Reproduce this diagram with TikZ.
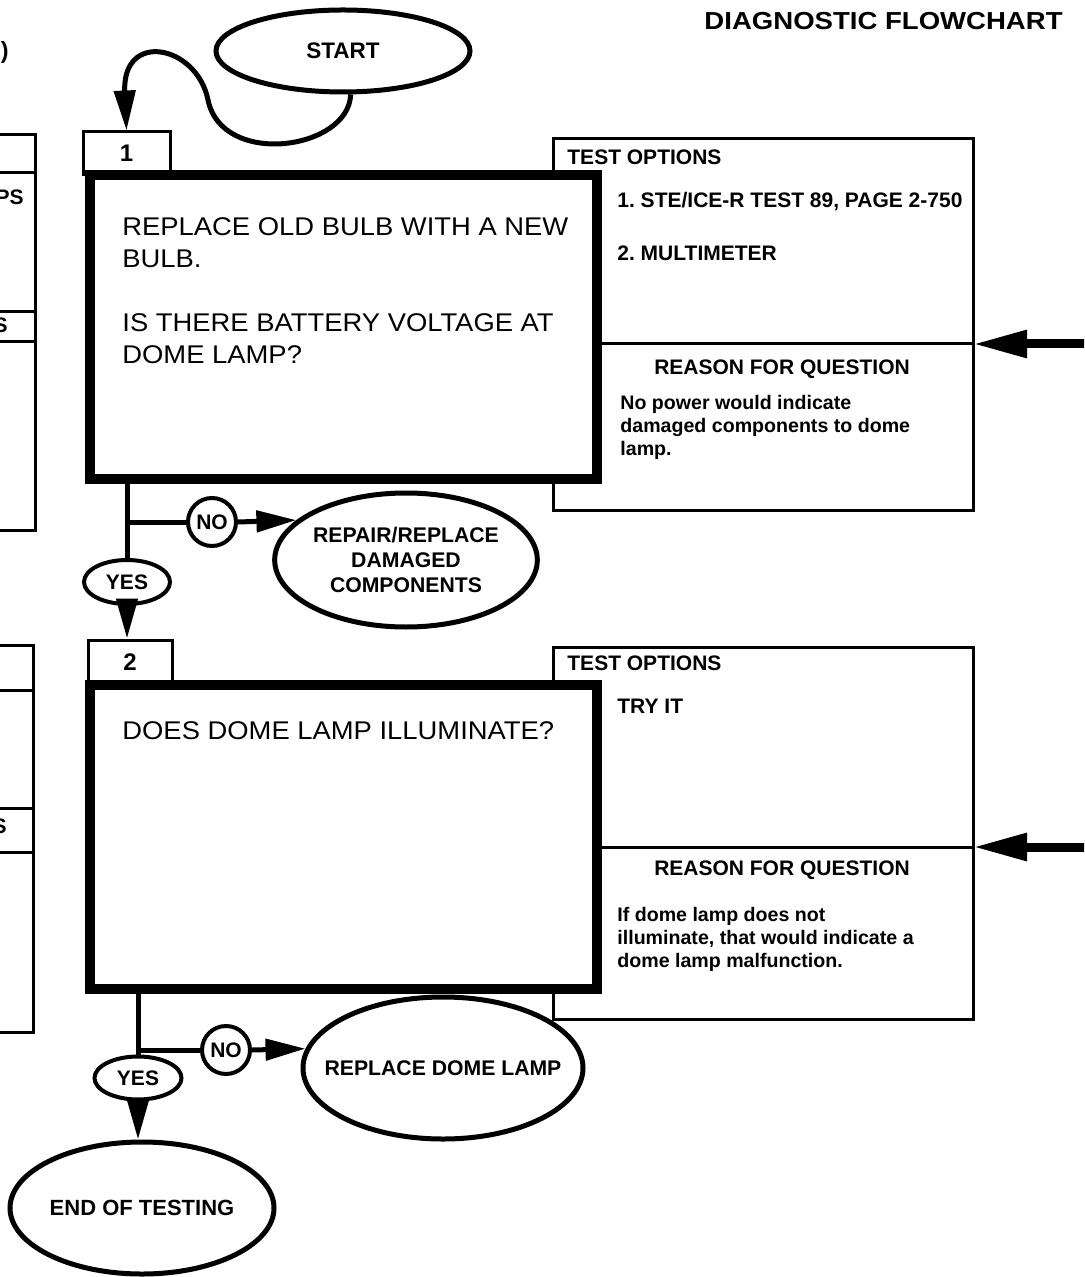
\documentclass[tikz,border=0pt]{standalone}
\usepackage{fontspec}
\setmainfont{Liberation Sans}
\newfontfamily\titlefont[FakeStretch=1.12]{Liberation Sans}
\newfontfamily\qfont[FakeStretch=1.07]{Liberation Sans}
\usetikzlibrary{shapes.geometric,arrows.meta}
\frenchspacing
\begin{document}
\begin{tikzpicture}[x=0.5pt,y=-0.5pt,
  thinline/.style={line width=1.5pt},
  mainbox/.style={draw,line width=5pt,fill=white,rectangle,minimum width=253.5pt,minimum height=152pt,inner sep=0pt},
  testbox/.style={draw,line width=1.5pt,rectangle,minimum width=210pt,inner sep=0pt},
  tabbox/.style={draw,line width=1.5pt,rectangle,inner sep=0pt,font=\bfseries\fontsize{12}{14}\selectfont},
  oval/.style={draw,ellipse,line width=2.5pt,inner sep=0pt,align=center,font=\bfseries\fontsize{10.6}{12.5}\selectfont},
  answer/.style={draw,ellipse,line width=2pt,inner sep=0pt,font=\bfseries\fontsize{10.5}{12}\selectfont},
  conn/.style={line width=2.5pt},
  endtip/.style={-{Triangle[length=20pt,width=10.5pt]}},
  bigarrow/.style={line width=4.5pt,-{Triangle[length=27pt,width=13pt]}},
  hdr/.style={font=\bfseries\fontsize{10.5}{12}\selectfont,inner sep=0pt,anchor=base west},
  smalltext/.style={font=\bfseries\fontsize{9.8}{11.5}\selectfont,inner sep=0pt,anchor=base west,align=left},
  qtext/.style={font=\qfont\fontsize{12.8}{16}\selectfont,inner sep=0pt,anchor=base west,align=left},
]
\useasboundingbox (0,0) rectangle (1084,1277);
\clip (0,0) rectangle (1084,1277);

% title and fragments at left edge
\node[font=\titlefont\bfseries\fontsize{12.3}{14}\selectfont,anchor=base east,inner sep=0pt] (title) at (1063,30) {DIAGNOSTIC FLOWCHART};
\node[font=\bfseries\fontsize{11.7}{14}\selectfont,anchor=base east,inner sep=0pt] (paren) at (9,59) {)};

\draw[thinline] (-10,135) -- (35,135) -- (35,530) -- (-10,530);
\draw[thinline] (-10,173) -- (35,173) (-10,312) -- (35,312) (-10,342) -- (35,342);
\node[hdr,anchor=base east] (lp1) at (24,205) {PS};
\node[hdr,anchor=base east] (ls1) at (8,333) {S};

\draw[thinline] (-10,645) -- (33,645) -- (33,1032) -- (-10,1032);
\draw[thinline] (-10,690) -- (33,690) (-10,808) -- (33,808) (-10,852) -- (33,852);
\node[hdr,anchor=base east] (ls2) at (7,833) {S};

% side boxes (behind)
\node[testbox,minimum height=185.5pt] (test1) at (763,324.5) {};
\node[testbox,minimum height=186pt] (test2) at (763,833) {};

% main boxes
\node[mainbox] (box1) at (343.5,327) {};
\node[mainbox] (box2) at (343.5,837) {};
\node[tabbox,minimum width=43.5pt,minimum height=21.5pt] (tab1) at (126.5,153.5) {1};
\node[tabbox,minimum width=42pt,minimum height=22.5pt] (tab2) at (130,662.5) {2};

% multi-line nodes: base anchor = baseline of last line
\node[qtext] (q1) at (122,364) {REPLACE OLD BULB WITH A NEW\\BULB.\\[16pt]IS THERE BATTERY VOLTAGE AT\\DOME LAMP?};
\node[qtext] (q2) at (122,739) {DOES DOME LAMP ILLUMINATE?};

% side box 1 content
\node[hdr] (to1) at (567,164.5) {TEST OPTIONS};
\node[hdr] (o11) at (617,207.5) {1. STE/ICE-R TEST 89, PAGE 2-750};
\node[hdr] (o12) at (617,260.5) {2. MULTIMETER};
\coordinate (div1) at (973,344);
\draw[thinline] (box1.east |- div1) -- (div1);
\node[hdr,anchor=base] (rq1) at (782,374.5) {REASON FOR QUESTION};
\node[smalltext] (r1) at (620,456) {No power would indicate\\damaged components to dome\\lamp.};
\coordinate (in1) at (1100,344);
\draw[bigarrow] (in1) -- (div1);

% side box 2 content
\node[hdr] (to2) at (567,670.5) {TEST OPTIONS};
\node[hdr] (o21) at (617,713.5) {TRY IT};
\coordinate (div2) at (973,847);
\draw[thinline] (box2.east |- div2) -- (div2);
\node[hdr,anchor=base] (rq2) at (782,875.5) {REASON FOR QUESTION};
\node[smalltext] (r2) at (617,967) {If dome lamp does not\\illuminate, that would indicate a\\dome lamp malfunction.};
\coordinate (in2) at (1100,847);
\draw[bigarrow] (in2) -- (div2);

% start
\node[oval,minimum width=127pt,minimum height=41pt,font=\bfseries\fontsize{11.25}{13}\selectfont] (start) at (343,51) {START};
\draw[conn,endtip] (start.-80) .. controls (349,150) and (222,168) .. (208,100) .. controls (197,45) and (122,30) .. (tab1.north);

% branch 1
\node[answer,minimum width=43pt,minimum height=22pt] (yes1) at (127,582) {YES};
\node[answer,circle,minimum size=24pt] (no1) at (212,522) {NO};
\node[oval,minimum width=131pt,minimum height=67pt] (repair) at (406,560) {REPAIR/REPLACE\\DAMAGED\\COMPONENTS};
\draw[conn] (yes1 |- box1.south) -- (yes1.north);
\draw[conn] (yes1 |- no1) -- (no1.west);
\draw[conn,endtip] (no1.east) -- (repair.160.6);
\draw[conn,endtip] (yes1.south) -- (yes1 |- tab2.north);

% branch 2
\node[answer,minimum width=43.5pt,minimum height=21.5pt] (yes2) at (138,1078) {YES};
\node[answer,circle,minimum size=24pt] (no2) at (226,1050) {NO};
\node[oval,minimum width=140pt,minimum height=71pt] (replace) at (443,1068) {\makebox[0pt]{REPLACE DOME LAMP}};
\node[oval,minimum width=132pt,minimum height=66pt,font=\bfseries\fontsize{11}{13}\selectfont] (end) at (142,1208) {END OF TESTING};
\draw[conn] (yes2 |- box2.south) -- (yes2.north);
\draw[conn] (yes2 |- no2) -- (no2.west);
\draw[conn,endtip] (no2.east) -- (replace.172.4);
\draw[conn,endtip] (yes2.south) -- (yes2.south |- end.north);
\end{tikzpicture}
\end{document}
